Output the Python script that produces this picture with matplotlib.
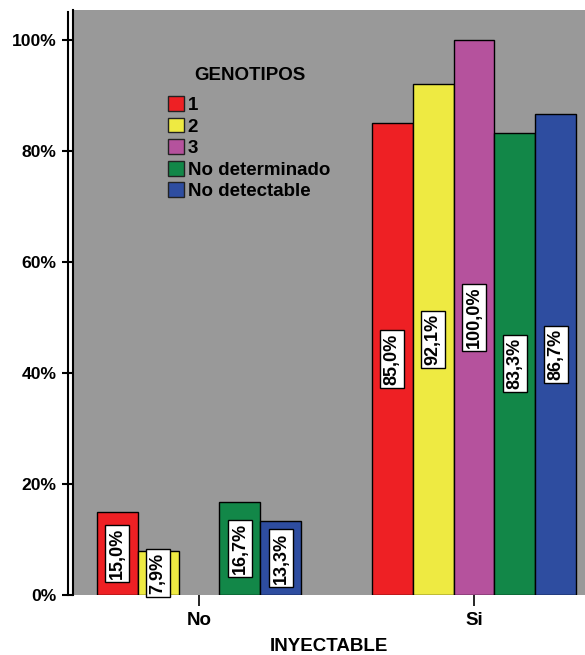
import matplotlib
matplotlib.use("Agg")
import matplotlib.pyplot as plt
import numpy as np
from matplotlib.patches import Patch
from matplotlib.lines import Line2D
from matplotlib.ticker import FuncFormatter

plt.rcParams['font.family'] = ['Liberation Sans', 'DejaVu Sans']
plt.rcParams['font.weight'] = 'bold'

# Data: percentage of each genotype by injectable use
categories = ["No", "Si"]
genotypes = ["1", "2", "3", "No determinado", "No detectable"]
values = {
    "1": [15.0, 85.0],
    "2": [7.9, 92.1],
    "3": [0.0, 100.0],
    "No determinado": [16.7, 83.3],
    "No detectable": [13.3, 86.7],
}
colors = ["#EE2024", "#EEEA42", "#B5529D", "#128748", "#2E4DA0"]
yticks = [0, 20, 40, 60, 80, 100]

W, H = 585, 655
fig = plt.figure(figsize=(W / 100, H / 100), dpi=100)
ax_left, ax_right, ax_bottom, ax_top = 73, 585, 595, 10
ax = fig.add_axes([ax_left / W, 1 - ax_bottom / H,
                   (ax_right - ax_left) / W, (ax_bottom - ax_top) / H])
ax.set_facecolor("#999999")

x = np.arange(len(categories))
width = 0.149
n = len(genotypes)
for i, (g, c) in enumerate(zip(genotypes, colors)):
    offs = (i - (n - 1) / 2) * width
    vals = values[g]
    for xi, v in zip(x, vals):
        if v <= 0:
            continue
        ax.bar(xi + offs, v, width, color=c, edgecolor="black", linewidth=1.0, zorder=2)
        ax.text(xi + offs, v / 2, f"{v:.1f}%".replace(".", ","),
                rotation=90, ha="center", va="center", fontsize=13,
                fontweight="bold", zorder=4,
                bbox=dict(boxstyle="square,pad=0.17", facecolor="white",
                          edgecolor="black", linewidth=1.0))

ax.set_ylim(0, (ax_bottom - ax_top) / 5.55)
ax.set_xlim((ax_left - 199) / 275, (ax_right - 199) / 275)

ax.set_yticks(yticks)
ax.yaxis.set_major_formatter(FuncFormatter(lambda v, p: f"{int(v)}%"))
ax.tick_params(axis="y", direction="out", length=8, width=1.5, pad=4,
               labelsize=12.6, color="black")
ax.set_xticks(x)
ax.set_xticklabels(categories)
ax.tick_params(axis="x", direction="out", length=8, width=1.2, pad=4,
               labelsize=13.5)
for lab in ax.get_xticklabels() + ax.get_yticklabels():
    lab.set_fontweight("bold")

for s in ["top", "right", "bottom"]:
    ax.spines[s].set_visible(False)
ax.spines["left"].set_linewidth(1.5)
ax.spines["left"].set_color("black")

# second line of the double y axis
fig.add_artist(Line2D([68 / W, 68 / W], [1 - 595 / H, 1 - 12 / H],
                      color="black", linewidth=1.5))

ax.set_xlabel("INYECTABLE", fontsize=13.5, fontweight="bold", labelpad=7)

handles = [Patch(facecolor=c, edgecolor="#222222", linewidth=1.0) for c in colors]
leg = ax.legend(handles, genotypes, loc="upper left",
                bbox_to_anchor=(168 / W, 1 - 96 / H), bbox_transform=fig.transFigure,
                frameon=False, fontsize=13.5, handlelength=0.85, handleheight=0.85,
                handletextpad=0.2, labelspacing=0.19, borderpad=0, borderaxespad=0)
for t in leg.get_texts():
    t.set_fontweight("bold")
fig.text(250 / W, 1 - 75 / H, "GENOTIPOS", ha="center", va="center",
         fontsize=13.5, fontweight="bold")

fig.savefig("out.png", dpi=100)
